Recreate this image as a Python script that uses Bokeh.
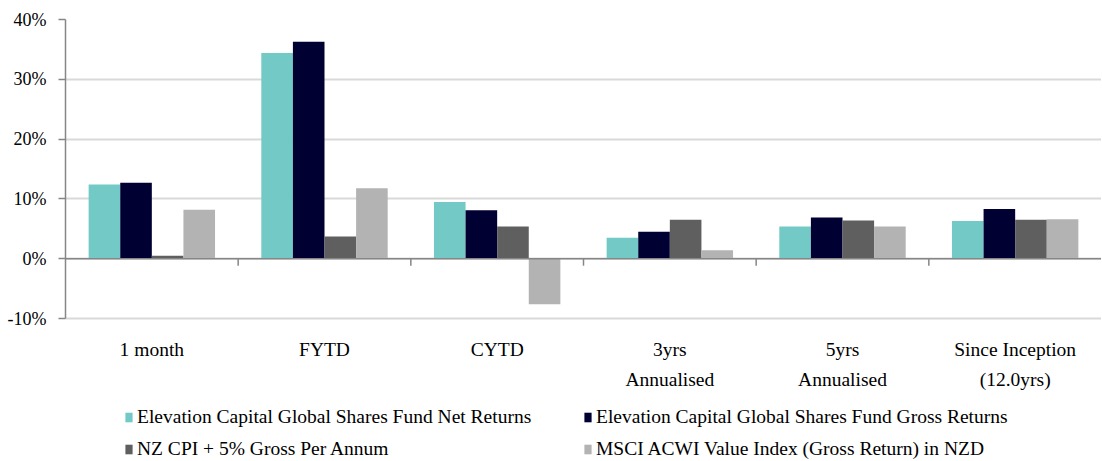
import math
from bokeh.plotting import figure
from bokeh.models import (FactorRange, Range1d, ColumnDataSource, Span, Legend, LegendItem,
                          CategoricalAxis, FixedTicker, PrintfTickFormatter,
                          CustomJSTickFormatter)
from bokeh.transform import dodge
from bokeh.embed import file_html
from bokeh.resources import INLINE

categories = ["1 month", "FYTD", "CYTD", "3yrs Annualised", "5yrs Annualised",
              "Since Inception (12.0yrs)"]
label_line1 = ["1 month", "FYTD", "CYTD", "3yrs", "5yrs", "Since Inception"]
label_line2 = ["", "", "", "Annualised", "Annualised", "(12.0yrs)"]

net_returns = [12.4, 34.4, 9.5, 3.5, 5.4, 6.3]
gross_returns = [12.7, 36.3, 8.1, 4.5, 6.9, 8.3]
nz_cpi = [0.5, 3.7, 5.4, 6.5, 6.4, 6.5]
msci_acwi = [8.2, 11.8, -7.6, 1.4, 5.4, 6.6]

series_names = ["Elevation Capital Global Shares Fund Net Returns",
                "Elevation Capital Global Shares Fund Gross Returns",
                "NZ CPI + 5% Gross Per Annum",
                "MSCI ACWI Value Index (Gross Return) in NZD"]
colors = ["#73C9C6", "#000033", "#5F5F5F", "#B3B3B3"]
y_ticks = [-10, 0, 10, 20, 30, 40]
y_min, y_max = -10, 40

FONT = "Liberation Serif"
LBL = "19.5px"

# layout (pixels)
W, H = 1101, 460
TOP, LEFT = 19, 65
AXIS_PX = 299                      # pixels spanned by y_min..y_max
frame_h = H - TOP
px_per_unit = AXIS_PX / (y_max - y_min)
y_start = y_max - frame_h / px_per_unit   # extra room below for labels/legend

source = ColumnDataSource(dict(cat=categories, net=net_returns, gross=gross_returns,
                               cpi=nz_cpi, msci=msci_acwi))

p = figure(width=W, height=H, output_backend="svg", toolbar_location=None,
           x_range=FactorRange(factors=categories, range_padding=0, factor_padding=0),
           y_range=Range1d(y_start, y_max), min_border_left=LEFT, min_border_right=0,
           min_border_top=TOP, min_border_bottom=0)
p.outline_line_color = None
p.background_fill_color = "white"
p.border_fill_color = "white"

bw = 0.183
offsets = [-1.5 * bw, -0.5 * bw, 0.5 * bw, 1.5 * bw]
renderers = []
for col, off, c in zip(["net", "gross", "cpi", "msci"], offsets, colors):
    r = p.vbar(x=dodge("cat", off, range=p.x_range), top=col, bottom=0, width=bw,
               source=source, fill_color=c, line_color=None)
    renderers.append(r)

# zero line and category boundary ticks
p.add_layout(Span(location=0, dimension="width", line_color="#868686", line_width=1.5))
p.ray(x=[1, 2, 3, 4, 5], y=[0] * 5, length=7, length_units="screen",
      angle=-math.pi / 2, line_color="#868686", line_width=1.5)

# y axis
ya = p.yaxis[0]
ya.ticker = FixedTicker(ticks=y_ticks)
ya.bounds = (y_min, y_max)
ya.formatter = PrintfTickFormatter(format="%d%%")
ya.major_label_text_font = FONT
ya.major_label_text_font_size = "18px"
ya.major_label_text_color = "#000000"
ya.axis_line_color = "#868686"
ya.axis_line_width = 1.5
ya.major_tick_line_color = "#868686"
ya.major_tick_line_width = 1.5
ya.major_tick_out = 7
ya.major_tick_in = 0
ya.minor_tick_line_color = None
ya.major_label_standoff = 12

p.ygrid.grid_line_color = "#D9D9D9"
p.ygrid.grid_line_width = 2
p.xgrid.grid_line_color = None

JS = "const i = cats.indexOf(tick); return i >= 0 ? lines[i] : tick;"

# x axis labels: two lines, both anchored under the -10% line
xa = p.xaxis[0]
xa.fixed_location = y_min
xa.axis_line_color = None
xa.major_tick_line_color = None
xa.major_tick_out = 0
xa.major_tick_in = 0
xa.major_label_standoff = 20
xa.major_label_text_font = FONT
xa.major_label_text_font_size = LBL
xa.major_label_text_color = "#000000"
xa.formatter = CustomJSTickFormatter(args=dict(cats=categories, lines=label_line1), code=JS)

xa2 = CategoricalAxis(fixed_location=y_min, axis_line_color=None, major_tick_line_color=None,
                      major_tick_out=0, major_tick_in=0, major_label_standoff=50,
                      major_label_text_font=FONT, major_label_text_font_size=LBL,
                      major_label_text_color="#000000",
                      formatter=CustomJSTickFormatter(args=dict(cats=categories, lines=label_line2),
                                                      code=JS))
p.add_layout(xa2, "below")

# legend (two columns; column-major fill) inside the extended frame
order = [0, 2, 1, 3]
lg = Legend(items=[LegendItem(label=series_names[i], renderers=[renderers[i]]) for i in order],
            location=(59, 0), orientation="vertical", ncols=2,
            border_line_color=None, background_fill_alpha=0, padding=0, margin=0,
            spacing=10, glyph_width=9, glyph_height=12, label_height=20, label_width=436,
            label_standoff=4, label_text_font=FONT, label_text_font_size=LBL,
            label_text_color="#000000")
p.add_layout(lg, "center")

open("out.html", "w").write(file_html(p, INLINE))
